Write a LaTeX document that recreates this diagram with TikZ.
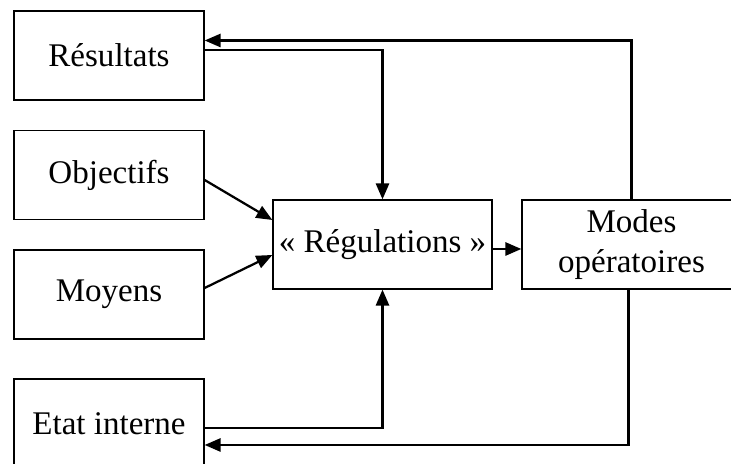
\documentclass[tikz,border=0pt]{standalone}
\usepackage{fontspec}
\setmainfont{Liberation Serif}
\usetikzlibrary{calc,arrows.meta}

\tikzset{
  bloc/.style={draw, line width=0.9pt, inner sep=0pt, minimum width=4.75cm,
    minimum height=2.225cm, align=center, font=\fontsize{23.5}{28.5}\selectfont},
  large/.style={minimum width=5.475cm},
  fleche/.style={line width=1.6pt, -{Triangle[length=0.4cm, width=0.33cm]}}
}

\begin{document}
\begin{tikzpicture}[x=0.025cm, y=0.025cm]
			%%%%% CADRE %%%%%
			\useasboundingbox (0, 0) rectangle (731, 464);
			
			\node[bloc] (res) at (109, 408.5) {Résultats};
			\node[bloc] (obj) at (109, 289) {Objectifs};
			\node[bloc] (moy) at (109, 169.5) {Moyens};
			\node[bloc] (etat) at (109, 40.5) {Etat interne};
			
			\node[bloc, large] (reg) at (382.5, 219.5) {\raisebox{-3pt}{« Régulations »}};
			\node[bloc, large] (modes) at (631.5, 219.5) {Modes\\opératoires};
			
			%%%%% FLECHES %%%%%
			\draw[fleche] (modes.north) |- ($(res.east)+(0, 15)$);
			\draw[fleche] ($(res.east)+(0, 5.5)$) -| (reg.north);
			
			\draw[fleche] ($(obj.east)+(0, -5)$) -- ($(reg.west)+(0, 24.5)$);
			\draw[fleche] ($(moy.east)+(0, 6.5)$) -- ($(reg.west)+(0, -10.5)$);
			
			\draw[fleche] ($(etat.east)+(0, -4.5)$) -| (reg.south);
			\draw[fleche] ($(modes.south)+(-3, 0)$) |- ($(etat.east)+(0, -21.5)$);
			
			\draw[fleche] ($(reg.east)+(0, -4.5)$) -- ($(modes.west)+(0, -4.5)$);
			
			%%%%% FIN %%%%%
\end{tikzpicture}
\end{document}
